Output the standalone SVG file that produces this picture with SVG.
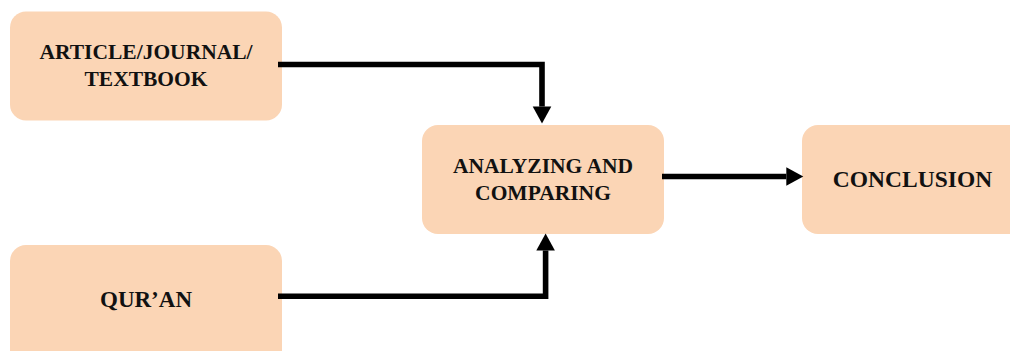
<svg xmlns="http://www.w3.org/2000/svg" width="1010" height="351" viewBox="0 0 1010 351">
<style>
.box{fill:#FBD5B5}
.t{font-family:"Liberation Serif","Times New Roman",serif;font-weight:bold;fill:#111;text-anchor:middle}
.c{fill:none;stroke:#000;stroke-width:5.6;stroke-linejoin:miter}
</style>
<defs>
<marker id="ah" markerUnits="userSpaceOnUse" markerWidth="18" markerHeight="19" refX="0" refY="9.3" orient="auto" overflow="visible">
<path d="M0,0 L17,9.3 L0,18.6 Z" fill="#000"/>
</marker>
</defs>
<g id="n-article">
<rect class="box" x="10" y="11.5" width="272" height="109" rx="16"/>
<text class="t" x="146" y="59" font-size="21.5">ARTICLE/JOURNAL/</text>
<text class="t" x="146" y="86" font-size="21.5">TEXTBOOK</text>
</g>
<g id="n-quran">
<rect class="box" x="10" y="245" width="272" height="130" rx="16"/>
<text class="t" x="146" y="306.5" font-size="23">QUR’AN</text>
</g>
<g id="n-analyzing">
<rect class="box" x="422" y="125" width="242" height="109" rx="16"/>
<text class="t" x="543" y="172.5" font-size="21.5">ANALYZING AND</text>
<text class="t" x="543" y="200" font-size="21.5">COMPARING</text>
</g>
<g id="n-conclusion">
<rect class="box" x="802" y="125" width="240" height="109" rx="16"/>
<text class="t" x="912.5" y="187" font-size="23.5">CONCLUSION</text>
</g>
<g id="connectors">
<path class="c" d="M278,64.5 H542 V106.5" marker-end="url(#ah)"/>
<path class="c" d="M278,296.3 H545.6 V250.5" marker-end="url(#ah)"/>
<path class="c" d="M662,176.5 H786.3" marker-end="url(#ah)"/>
</g>
</svg>
